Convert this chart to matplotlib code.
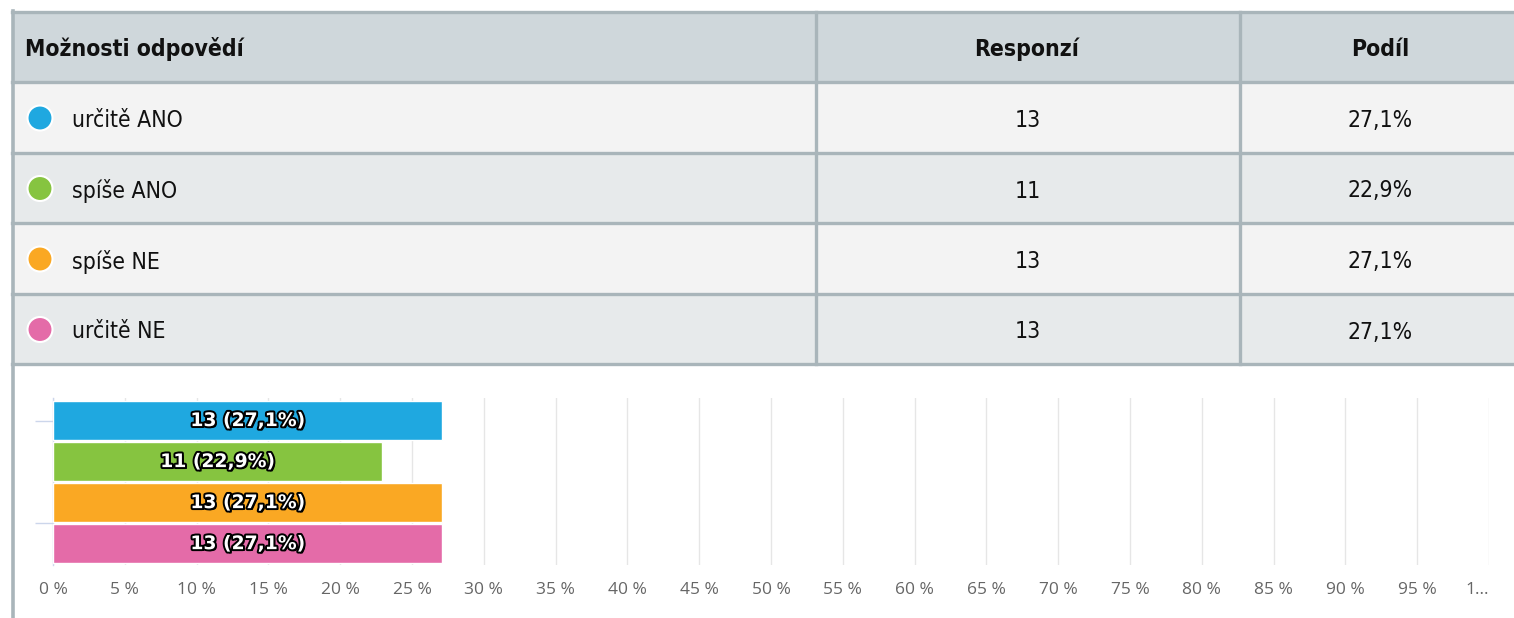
import matplotlib
matplotlib.use('Agg')
import matplotlib.pyplot as plt
import matplotlib.patheffects as pe
from matplotlib.patches import Rectangle, Circle

categories = ['určitě ANO', 'spíše ANO', 'spíše NE', 'určitě NE']
responses = [13, 11, 13, 13]
shares = [27.1, 22.9, 27.1, 27.1]
colors = ['#1fa8e0', '#86c440', '#faa823', '#e46ba8']
header = ['Možnosti odpovědí', 'Responzí', 'Podíl']
xticks = list(range(0, 101, 5))

W, H = 1514, 618
fig = plt.figure(figsize=(W / 100, H / 100), dpi=100)

# --- table drawn in pixel coordinates
tab = fig.add_axes([0, 0, 1, 1])
tab.set_xlim(0, W)
tab.set_ylim(H, 0)
tab.axis('off')

border = '#a9b5ba'
cond = dict(family='DejaVu Sans', fontstretch='condensed', color='#111111')
row_edges = [12, 82, 153, 223, 294, 364]
col_edges = [12, 816, 1240, 1520]
row_bg = ['#cfd7db', '#f3f3f3', '#e7eaeb', '#f3f3f3', '#e7eaeb']
for i in range(5):
    tab.add_patch(Rectangle((12, row_edges[i]), W, row_edges[i + 1] - row_edges[i],
                            facecolor=row_bg[i], edgecolor='none', zorder=1))
for y in row_edges:
    tab.plot([12, W], [y, y], color=border, lw=2.4, zorder=2)
for x in col_edges[1:3]:
    tab.plot([x, x], [12, 364], color=border, lw=2.4, zorder=2)
tab.plot([13, 13], [11, H], color=border, lw=2.6, zorder=2)

hy = (row_edges[0] + row_edges[1]) / 2 + 2
tab.text(25, hy, header[0], fontsize=16.5, fontweight='bold', va='center', ha='left', **cond)
tab.text(1027, hy, header[1], fontsize=16.5, fontweight='bold', va='center', ha='center', **cond)
tab.text(1380, hy, header[2], fontsize=16.5, fontweight='bold', va='center', ha='center', **cond)

for i, (cat, n, s, c) in enumerate(zip(categories, responses, shares, colors)):
    cy = (row_edges[i + 1] + row_edges[i + 2]) / 2
    tab.add_patch(Circle((40, cy + 0.5), 12.5, facecolor=c, edgecolor='white', lw=1.5, zorder=3))
    tab.text(72, cy + 3, cat, fontsize=16.5, va='center', ha='left', **cond)
    tab.text(1028, cy + 3, str(n), fontsize=16.5, va='center', ha='center', **cond)
    tab.text(1380, cy + 3, f'{s:.1f}%'.replace('.', ','), fontsize=16.5,
             va='center', ha='center', **cond)

# --- bar chart
x0, x1, y0, y1 = 53, 1489, 398, 565
ax = fig.add_axes([x0 / W, (H - y1) / H, (x1 - x0) / W, (y1 - y0) / H])
ax.set_xlim(0, 100)
ax.set_ylim(3.52, -0.55)
ax.barh(range(len(categories)), shares, height=0.95, color=colors,
        edgecolor='white', linewidth=1, zorder=3)
for i, (n, s) in enumerate(zip(responses, shares)):
    t = ax.text(s / 2, i, f'{n} ({s:.1f}%)'.replace('.', ','), ha='center', va='center',
                fontsize=13.5, fontweight='bold', color='white', zorder=4)
    t.set_path_effects([pe.withSimplePatchShadow(offset=(1.3, -1.3), shadow_rgbFace='black', alpha=1),
                        pe.Stroke(linewidth=2.8, foreground='black'), pe.Normal()])

ax.set_xticks(xticks)
labels = ax.set_xticklabels([f'{v} %' if v < 100 else '1...' for v in xticks],
                            color='#666666', fontsize=12.5, family=['Open Sans', 'DejaVu Sans'])
labels[-1].set_ha('right')
ax.tick_params(axis='x', length=0, pad=12)
ax.set_yticks([0, 2.5])
ax.set_yticklabels([])
ax.tick_params(axis='y', length=13, color='#ccd6eb', width=1)
ax.grid(axis='x', color='#e6e6e6', lw=1, zorder=0)
for sp in ['top', 'right', 'bottom']:
    ax.spines[sp].set_visible(False)
ax.spines['left'].set_color('#ccd6eb')
ax.spines['left'].set_linewidth(1)
ax.set_facecolor('none')

fig.savefig('out.png', dpi=100)
